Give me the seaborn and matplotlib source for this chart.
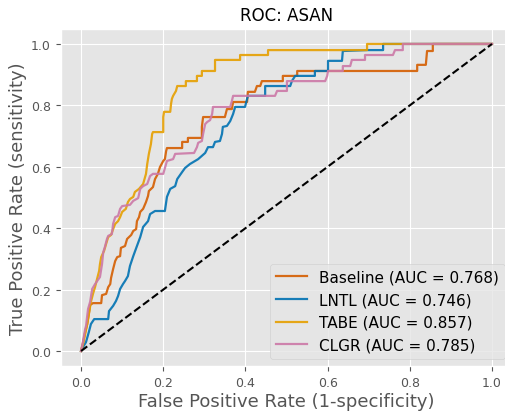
import matplotlib
matplotlib.use("Agg")
import matplotlib.pyplot as plt
import seaborn as sns
import pandas as pd

plt.style.use("ggplot")

# ---- data ----
baseline_fpr = [0, 0.005, 0.010, 0.015, 0.019, 0.022, 0.029, 0.049, 0.051, 0.061, 0.066, 0.071, 0.073, 0.078,
                0.083, 0.088, 0.095, 0.097, 0.107, 0.112, 0.122, 0.127, 0.134, 0.136, 0.141, 0.144, 0.151, 0.158,
                0.163, 0.165, 0.175, 0.180, 0.187, 0.192, 0.200, 0.204, 0.207, 0.209, 0.246, 0.246, 0.260, 0.260,
                0.294, 0.294, 0.297, 0.350, 0.355, 0.367, 0.370, 0.404, 0.406, 0.423, 0.428, 0.436, 0.440, 0.491,
                0.491, 0.526, 0.526, 0.818, 0.818, 0.839, 0.842, 0.856, 0.856, 1.0]
baseline_tpr = [0, 0.029, 0.062, 0.088, 0.121, 0.150, 0.156, 0.156, 0.182, 0.186, 0.208, 0.218, 0.238, 0.267,
                0.293, 0.306, 0.309, 0.336, 0.342, 0.365, 0.378, 0.391, 0.397, 0.423, 0.436, 0.453, 0.463, 0.485,
                0.505, 0.521, 0.534, 0.560, 0.577, 0.599, 0.619, 0.625, 0.651, 0.661, 0.661, 0.681, 0.681, 0.694,
                0.694, 0.730, 0.762, 0.762, 0.788, 0.788, 0.811, 0.811, 0.844, 0.844, 0.863, 0.863, 0.879, 0.879,
                0.896, 0.896, 0.912, 0.912, 0.932, 0.932, 0.977, 0.977, 1.0, 1.0]

lntl_fpr = [0, 0.005, 0.012, 0.019, 0.024, 0.032, 0.066, 0.068, 0.078, 0.085, 0.090, 0.095, 0.102, 0.107,
            0.114, 0.119, 0.127, 0.136, 0.144, 0.151, 0.163, 0.168, 0.180, 0.204, 0.209, 0.217, 0.229, 0.234,
            0.246, 0.253, 0.265, 0.285, 0.302, 0.309, 0.321, 0.326, 0.338, 0.343, 0.345, 0.355, 0.363, 0.367,
            0.370, 0.375, 0.399, 0.404, 0.406, 0.448, 0.448, 0.509, 0.513, 0.521, 0.569, 0.569, 0.601, 0.601,
            0.635, 0.637, 0.696, 0.735, 0.735, 1.0]
lntl_tpr = [0, 0.013, 0.029, 0.062, 0.088, 0.104, 0.104, 0.130, 0.147, 0.163, 0.179, 0.202, 0.218, 0.228,
            0.244, 0.277, 0.309, 0.342, 0.371, 0.404, 0.423, 0.446, 0.456, 0.456, 0.502, 0.528, 0.537, 0.560,
            0.583, 0.596, 0.609, 0.625, 0.645, 0.664, 0.664, 0.681, 0.684, 0.707, 0.730, 0.733, 0.749, 0.762,
            0.772, 0.795, 0.795, 0.821, 0.831, 0.831, 0.863, 0.863, 0.879, 0.896, 0.896, 0.912, 0.912, 0.945,
            0.945, 0.977, 0.980, 0.980, 1.0, 1.0]

tabe_fpr = [0, 0.005, 0.010, 0.015, 0.019, 0.024, 0.029, 0.034, 0.039, 0.044, 0.046, 0.049, 0.056, 0.061,
            0.066, 0.073, 0.078, 0.083, 0.090, 0.095, 0.100, 0.109, 0.114, 0.119, 0.127, 0.131, 0.141, 0.151,
            0.158, 0.161, 0.165, 0.170, 0.173, 0.175, 0.200, 0.200, 0.202, 0.217, 0.219, 0.221, 0.224, 0.231,
            0.234, 0.255, 0.255, 0.282, 0.282, 0.294, 0.294, 0.326, 0.326, 0.387, 0.387, 0.455, 0.455, 0.696,
            0.696, 1.0]
tabe_tpr = [0, 0.023, 0.055, 0.088, 0.121, 0.160, 0.186, 0.208, 0.235, 0.261, 0.283, 0.306, 0.326, 0.349,
            0.371, 0.378, 0.397, 0.414, 0.423, 0.436, 0.453, 0.463, 0.485, 0.495, 0.502, 0.518, 0.528, 0.544,
            0.577, 0.609, 0.642, 0.674, 0.707, 0.713, 0.713, 0.762, 0.779, 0.779, 0.805, 0.821, 0.831, 0.847,
            0.863, 0.863, 0.879, 0.879, 0.896, 0.896, 0.912, 0.912, 0.948, 0.948, 0.964, 0.964, 0.980, 0.980,
            1.0, 1.0]

clgr_fpr = [0, 0.005, 0.010, 0.012, 0.017, 0.022, 0.027, 0.034, 0.046, 0.051, 0.054, 0.058, 0.063, 0.066,
            0.075, 0.078, 0.083, 0.090, 0.095, 0.100, 0.119, 0.127, 0.139, 0.144, 0.151, 0.161, 0.168, 0.175,
            0.200, 0.209, 0.224, 0.229, 0.275, 0.282, 0.285, 0.294, 0.297, 0.302, 0.307, 0.314, 0.319, 0.321,
            0.363, 0.367, 0.370, 0.472, 0.477, 0.501, 0.501, 0.594, 0.599, 0.601, 0.637, 0.637, 0.655, 0.659,
            0.691, 0.691, 0.759, 0.764, 0.783, 0.783, 1.0]
clgr_tpr = [0, 0.033, 0.072, 0.081, 0.137, 0.160, 0.202, 0.218, 0.241, 0.283, 0.322, 0.339, 0.365, 0.375,
            0.381, 0.414, 0.436, 0.440, 0.463, 0.472, 0.476, 0.489, 0.498, 0.528, 0.537, 0.544, 0.570, 0.577,
            0.577, 0.619, 0.625, 0.642, 0.645, 0.664, 0.678, 0.684, 0.707, 0.739, 0.746, 0.752, 0.772, 0.795,
            0.795, 0.814, 0.831, 0.831, 0.847, 0.847, 0.879, 0.879, 0.896, 0.912, 0.912, 0.928, 0.928, 0.948,
            0.948, 0.964, 0.964, 0.980, 0.980, 1.0, 1.0]

models = ["Baseline", "LNTL", "TABE", "CLGR"]
aucs = [0.768, 0.746, 0.857, 0.785]
colors = ["#D55E00", "#0072B2", "#E69F00", "#CC79A7"]
fprs = [baseline_fpr, lntl_fpr, tabe_fpr, clgr_fpr]
tprs = [baseline_tpr, lntl_tpr, tabe_tpr, clgr_tpr]

labels = [f"{m} (AUC = {a:.3f})" for m, a in zip(models, aucs)]
frames = []
for lab, f, t in zip(labels, fprs, tprs):
    frames.append(pd.DataFrame({"fpr": f, "tpr": t, "model": lab}))
df = pd.concat(frames, ignore_index=True)

fig = plt.figure(figsize=(5.06, 4.14), dpi=100)
ax = fig.add_axes([0.1196, 0.1126, 0.8933, 0.8159])

sns.lineplot(data=df, x="fpr", y="tpr", hue="model", hue_order=labels,
             palette=dict(zip(labels, colors)), sort=False, estimator=None,
             units="model", linewidth=1.6, alpha=0.9, ax=ax)
ax.plot([0, 1], [0, 1], color="black", linestyle="--", linewidth=1.5)

ax.set_xlim(-0.05, 1.05)
ax.set_ylim(-0.05, 1.05)
ax.set_xticks([0, 0.2, 0.4, 0.6, 0.8, 1.0])
ax.set_yticks([0, 0.2, 0.4, 0.6, 0.8, 1.0])
ax.tick_params(labelsize=9)
ax.set_xlabel("False Positive Rate (1-specificity)", fontsize=13, labelpad=2)
ax.set_ylabel("True Positive Rate (sensitivity)", fontsize=13, labelpad=3)
ax.set_title("ROC: ASAN", fontsize=12)
ax.legend(loc="lower right", fontsize=11)

fig.savefig("out.png", dpi=100)
